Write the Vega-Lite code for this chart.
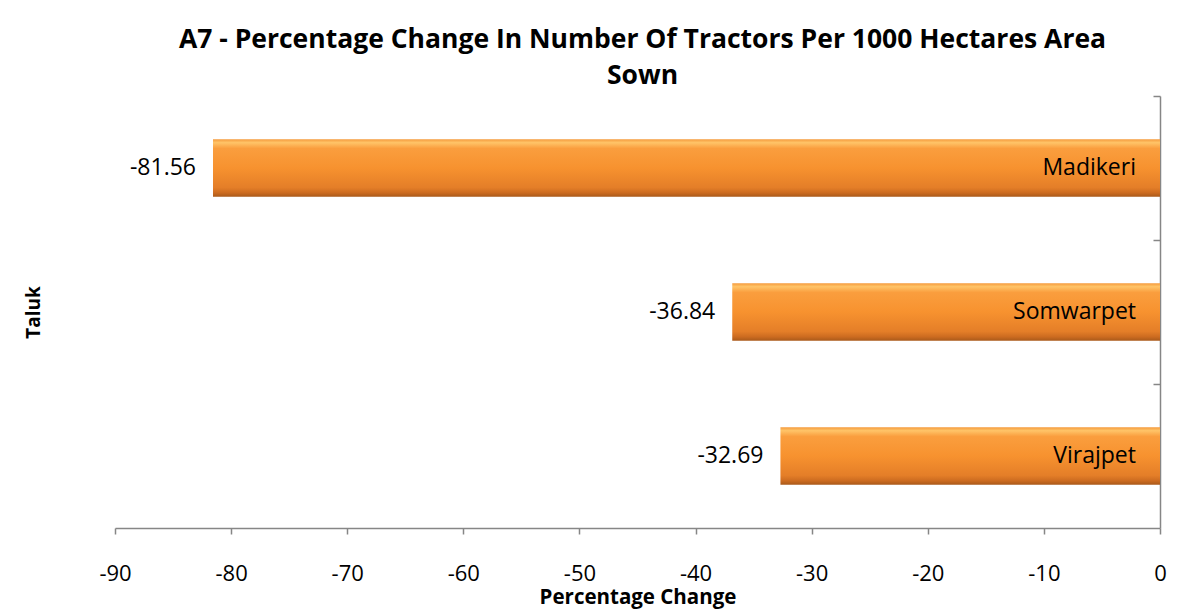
{
  "$schema": "https://vega.github.io/schema/vega-lite/v6.json",
  "width": 1045,
  "height": 432,
  "autosize": "none",
  "padding": {"left": 115, "top": 96, "right": 33, "bottom": 82},
  "background": "white",
  "config": {
    "font": "Open Sans",
    "view": {"stroke": null},
    "locale": {"number": {"decimal": ".", "thousands": ",", "grouping": [3], "currency": ["$", ""], "minus": "-"}}
  },
  "title": {
    "text": ["A7 - Percentage Change In Number Of Tractors Per 1000 Hectares Area", "Sown"],
    "font": "Open Sans",
    "fontSize": 26.5,
    "fontWeight": "bold",
    "color": "black",
    "anchor": "middle",
    "dx": 5,
    "offset": 6,
    "lineHeight": 36
  },
  "data": {
    "values": [
      {"Taluk": "Madikeri", "value": -81.56},
      {"Taluk": "Somwarpet", "value": -36.84},
      {"Taluk": "Virajpet", "value": -32.69}
    ]
  },
  "resolve": {"axis": {"y": "independent"}},
  "layer": [
    {
      "mark": {
        "type": "bar",
        "color": {
          "gradient": "linear",
          "x1": 0, "y1": 0, "x2": 0, "y2": 1,
          "stops": [
            {"offset": 0, "color": "#F59A3C"},
            {"offset": 0.06, "color": "#FFC468"},
            {"offset": 0.16, "color": "#FA9E3E"},
            {"offset": 0.5, "color": "#F7922F"},
            {"offset": 0.84, "color": "#E47E28"},
            {"offset": 0.93, "color": "#CC6B20"},
            {"offset": 1, "color": "#A9591A"}
          ]
        }
      },
      "encoding": {
        "y": {
          "field": "Taluk",
          "type": "nominal",
          "sort": null,
          "scale": {"paddingInner": 0.6, "paddingOuter": 0.3},
          "axis": {
            "orient": "right",
            "labels": false,
            "title": null,
            "bandPosition": -0.75,
            "ticks": true,
            "tickSize": -7,
            "domainColor": "#868686",
            "tickColor": "#868686",
            "domainWidth": 1.5,
            "tickWidth": 1.5
          }
        },
        "x": {
          "field": "value",
          "type": "quantitative",
          "scale": {"domain": [-90, 0], "nice": false, "zero": false},
          "axis": {
            "title": "Percentage Change",
            "titleFont": "Open Sans",
            "titleFontSize": 20.5,
            "titleFontWeight": "bold",
            "titleColor": "black",
            "titlePadding": 3,
            "values": [-90, -80, -70, -60, -50, -40, -30, -20, -10, 0],
            "grid": false,
            "tickSize": 6,
            "labelPadding": 29,
            "labelFlush": false,
            "labelFontSize": 22,
            "labelColor": "black",
            "labelFont": "Open Sans",
            "domainColor": "#868686",
            "tickColor": "#868686",
            "domainWidth": 1.5,
            "tickWidth": 1.5
          }
        }
      }
    },
    {
      "mark": {"type": "text", "align": "right", "baseline": "middle", "dx": -17, "fontSize": 23, "color": "black"},
      "encoding": {
        "y": {
          "field": "Taluk",
          "type": "nominal",
          "sort": null,
          "axis": {
            "orient": "left",
            "labels": false,
            "ticks": false,
            "domain": false,
            "title": "Taluk",
            "titleFontSize": 19,
            "titleFontWeight": "bold",
            "titleColor": "black",
            "titlePadding": 72
          }
        },
        "x": {"field": "value", "type": "quantitative"},
        "text": {"field": "value", "type": "quantitative", "format": ".2f"}
      }
    },
    {
      "mark": {"type": "text", "align": "right", "baseline": "middle", "dx": -24, "fontSize": 23, "color": "black"},
      "encoding": {
        "y": {"field": "Taluk", "type": "nominal", "sort": null, "axis": null},
        "x": {"datum": 0, "type": "quantitative"},
        "text": {"field": "Taluk", "type": "nominal"}
      }
    }
  ]
}
